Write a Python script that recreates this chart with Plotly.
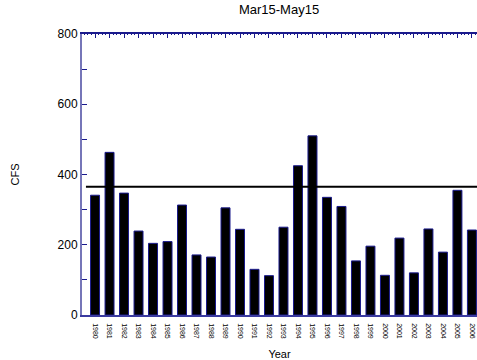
import plotly.graph_objects as go

# Spring (Mar 15 - May 15) mean flow by year
years = list(range(1980, 2007))
year_labels = [str(y) for y in years]
cfs = [341, 463, 347, 239, 204, 209, 313, 171, 165, 305, 244, 130, 112, 250,
       425, 510, 335, 309, 154, 196, 113, 219, 120, 245, 179, 355, 242]
reference_cfs = 365
y_tick_values = [0, 200, 400, 600, 800]

navy = "#1a1a8c"
font = "Liberation Sans, Arial, sans-serif"

fig = go.Figure()
fig.add_trace(go.Bar(
    x=years, y=cfs, width=0.62,
    marker=dict(color="black", line=dict(color=navy, width=1)),
    showlegend=False,
))
# invisible trace to carry the top tick axis
fig.add_trace(go.Scatter(x=[years[0]], y=[0], xaxis="x2", mode="markers",
                         marker=dict(opacity=0), showlegend=False, hoverinfo="skip"))

fig.add_shape(type="line", xref="paper", yref="y", x0=0.01, x1=1,
              y0=reference_cfs, y1=reference_cfs, line=dict(color="black", width=2))

xrange = [1979.1, 2006.35]
fig.update_layout(
    width=477, height=360,
    margin=dict(l=82, r=0, t=34, b=45),
    plot_bgcolor="white", paper_bgcolor="white",
    font=dict(family=font, color="black"),
    title=dict(text="Mar15-May15", x=0.585, xanchor="center", y=0.975, yanchor="middle",
               font=dict(size=13)),
    bargap=0.38,
    xaxis=dict(
        range=xrange, tickmode="array", tickvals=years, ticktext=year_labels,
        tickangle=90, tickfont=dict(size=7), ticks="", ticklabelstandoff=5,
        showgrid=False, zeroline=False,
        showline=True, linecolor="#3a3aa0", linewidth=1.5,
        title=dict(text="Year", font=dict(size=11), standoff=13),
    ),
    xaxis2=dict(
        range=xrange, overlaying="x", side="top", showticklabels=False,
        tickmode="array", tickvals=years, ticks="inside", ticklen=4, tickcolor=navy,
        minor=dict(dtick=0.25, tick0=1980, ticks="inside", ticklen=1.5, tickcolor=navy),
        showline=True, linecolor=navy, linewidth=1.5, showgrid=False, zeroline=False,
    ),
    yaxis=dict(
        range=[0, 800], tickmode="array", tickvals=y_tick_values,
        ticks="inside", ticklen=5, tickcolor=navy, tickfont=dict(size=12),
        minor=dict(dtick=100, ticks="inside", ticklen=5, tickcolor=navy, showgrid=False),
        showgrid=False, zeroline=False,
        showline=True, linecolor="#7676b8", linewidth=2,
        title=dict(text="CFS", font=dict(size=11), standoff=36),
    ),
)

fig.write_html("out.html")
